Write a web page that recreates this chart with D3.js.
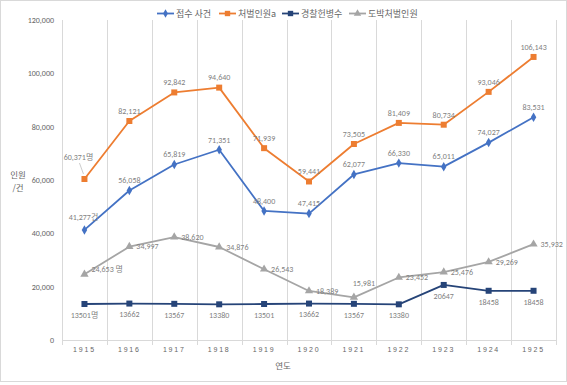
<!DOCTYPE html>
<html><head><meta charset="utf-8">
<script src="https://cdn.jsdelivr.net/npm/d3@7"></script>
<style>
body{margin:0;background:#fff;}
svg{display:block;font-family:"Malgun Gothic","Noto Sans CJK KR","Noto Sans",sans-serif;}
</style></head>
<body><svg id="c" width="567" height="385"></svg>
<script>
const years = ["1915","1916","1917","1918","1919","1920","1921","1922","1923","1924","1925"];
const cases = [41277,56058,65819,71351,48400,47415,62077,66330,65011,74027,83531];
const punished = [60371,82121,92842,94640,71939,59441,73505,81409,80734,93046,106143];
const police = [13501,13662,13567,13380,13501,13662,13567,13380,20647,18458,18458];
const gambling = [24653,34997,38620,34876,26543,18389,15981,23452,25476,29269,35932];
const yTicks = [0,20000,40000,60000,80000,100000,120000];
const seriesNames = ["접수 사건","처벌인원a","경찰헌병수","도박처벌인원"];

const svg = d3.select("#c");
const W=567,H=385;
const m={l:62,r:11,t:20,b:45};
const x = d3.scaleBand().domain(years).range([62,556]);
const y = d3.scaleLinear().domain([0,120000]).range([340,20]);

svg.append("rect").attr("x",0.5).attr("y",0.5).attr("width",W-1).attr("height",381)
  .attr("fill","#fff").attr("stroke","#d9d9d9");

// vertical gridlines at category boundaries
const bounds = years.map(d=>x(d)).concat([x.range()[1]]);
svg.append("g").selectAll("line").data(bounds).join("line")
  .attr("x1",d=>Math.round(d)+0.5).attr("x2",d=>Math.round(d)+0.5)
  .attr("y1",y(120000)).attr("y2",y(0)+5).attr("stroke","#d9d9d9").attr("stroke-width",1);
svg.append("line").attr("x1",62).attr("x2",556).attr("y1",340.5).attr("y2",340.5)
  .attr("stroke","#d9d9d9");

// y axis
const yAxis = d3.axisLeft(y).tickValues(yTicks).tickSize(0).tickPadding(8).tickFormat(d3.format(","));
const ga = svg.append("g").attr("transform","translate(62,0)").call(yAxis);
ga.select(".domain").remove();
ga.selectAll("text").attr("fill","#666").style("font-size","8px").attr("font-family","Calibri,Carlito,'Liberation Sans',sans-serif");

// x axis
const xAxis = d3.axisBottom(x).tickSize(0).tickPadding(7);
const gx = svg.append("g").attr("transform","translate(0,340)").call(xAxis);
gx.select(".domain").remove();
gx.selectAll("text").attr("fill","#666").style("font-size","7px").style("letter-spacing","1.8px");

// axis titles
svg.append("text").attr("x",283).attr("y",369).attr("text-anchor","middle").attr("fill","#666")
  .style("font-size","8.5px").text("연도");
svg.append("text").attr("x",18).attr("y",178).attr("text-anchor","middle").attr("fill","#666")
  .style("font-size","8.5px").text("인원");
svg.append("text").attr("x",18).attr("y",191).attr("text-anchor","middle").attr("fill","#666")
  .style("font-size","8.5px").text("/건");

const cx = d => x(d)+x.bandwidth()/2;
const series = [
  {name:seriesNames[0], vals:cases, color:"#4472C4", marker:"diamond", size:26, pos:"above", fmt:d3.format(","), suffix0:"건"},
  {name:seriesNames[1], vals:punished, color:"#ED7D31", marker:"square", size:36, pos:"above", fmt:d3.format(","), suffix0:"명"},
  {name:seriesNames[2], vals:police, color:"#264478", marker:"square", size:36, pos:"below", fmt:d=>String(d), suffix0:"명"},
  {name:seriesNames[3], vals:gambling, color:"#A5A5A5", marker:"triangle", size:30, pos:"right", fmt:d3.format(","), suffix0:" 명"}
];
const sym = {diamond:d3.symbolDiamond, square:d3.symbolSquare, triangle:d3.symbolTriangle};

const line = d3.line().x(d=>cx(d.year)).y(d=>y(d.v));
series.forEach(s=>{
  const pts = years.map((yr,i)=>({year:yr,v:s.vals[i],i}));
  svg.append("path").datum(pts).attr("d",line).attr("fill","none")
    .attr("stroke",s.color).attr("stroke-width",1.8).attr("stroke-linejoin","round");
  svg.append("g").selectAll("path").data(pts).join("path")
    .attr("transform",d=>`translate(${cx(d.year)},${y(d.v)})`)
    .attr("d",d3.symbol().type(sym[s.marker]).size(s.size)).attr("fill",s.color);
  s.pts=pts;
});

// labels
const lab = svg.append("g").style("font-size","8px").attr("fill","#7f7f7f")
  .attr("font-family","Calibri,Carlito,'Liberation Sans','Noto Sans CJK KR',sans-serif");
series.forEach(s=>{
  s.pts.forEach(d=>{
    let tx=cx(d.year), ty=y(d.v), anchor="middle";
    let txt = s.fmt(d.v) + (d.i===0 ? s.suffix0 : "");
    if(s.pos==="above"){ ty-=10; }
    else if(s.pos==="below"){ ty+=11; }
    else { tx+=7; anchor="start"; }
    // special placements
    if(s===series[1] && d.i===0){ tx-=6; ty=157; 
      lab.append("line").attr("x1",cx(d.year)-5).attr("y1",163).attr("x2",cx(d.year)-1).attr("y2",174)
        .attr("stroke","#bfbfbf").attr("stroke-width",0.8);
    }
    if(s===series[3] && d.i===6){ tx=cx(d.year)+10; ty=y(d.v)-14; anchor="middle"; }
    if(s===series[3] && d.i===0){ ty-=5; }
    if(s===series[0] && d.i===0){ tx-=1; ty-=3; }
    lab.append("text").attr("x",tx).attr("y",ty).attr("dy","0.35em").attr("text-anchor",anchor).text(txt);
  });
});

// legend
const legX=[157,219,282,349];
const lg = svg.append("g");
series.forEach((s,i)=>{
  const g = lg.append("g").attr("transform",`translate(${legX[i]},13.5)`);
  g.append("line").attr("x1",0).attr("x2",17).attr("stroke",s.color).attr("stroke-width",1.8);
  g.append("path").attr("transform","translate(8.5,0)").attr("d",d3.symbol().type(sym[s.marker]).size(s.size*0.8)).attr("fill",s.color);
  g.append("text").attr("x",19).attr("dy","0.35em").attr("fill","#666").style("font-size","9px").text(s.name);
});
</script></body></html>
